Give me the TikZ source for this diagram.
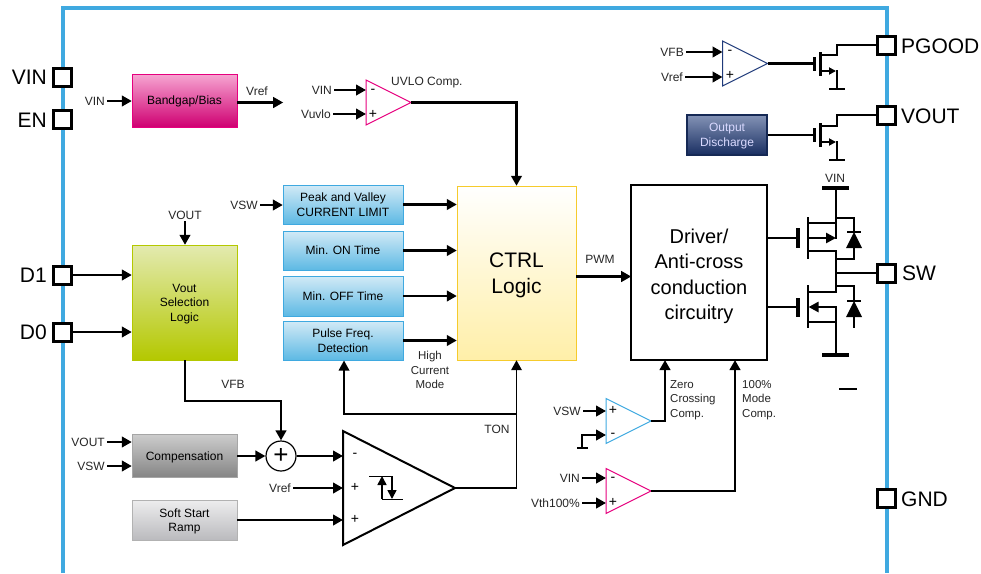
\documentclass[tikz,border=0pt]{standalone}
\usepackage{fontspec}
\setmainfont{Liberation Sans}
\usepackage{color}
\definecolor{frame-blue}{HTML}{3FA9E0}
\definecolor{comp-pink}{HTML}{E6007E}
\definecolor{comp-navy}{HTML}{1F3A7A}
\definecolor{ctrl-gold}{HTML}{F6CB2C}
\definecolor{sel-top}{HTML}{E3EAB0}
\definecolor{sel-bottom}{HTML}{B4C800}
\definecolor{box-top}{HTML}{D2EAF6}
\definecolor{box-bottom}{HTML}{5DB9E4}
\definecolor{ctrl-bottom}{HTML}{FFEFA8}
\usetikzlibrary{arrows.meta,shapes.geometric}

\begin{document}
\begin{tikzpicture}[x=1pt,y=-1pt,line join=miter]
    \tikzstyle{pin}=[draw,line width=3pt,fill=white,minimum size=18pt,inner sep=0pt]
    \tikzstyle{pinname}=[font=\fontsize{21}{21}\selectfont,inner sep=0pt]
    \tikzstyle{sig}=[font=\fontsize{12}{14}\selectfont,inner sep=2pt,text=black!85]
    \tikzstyle{sgn}=[font=\fontsize{14}{14}\selectfont,inner sep=0pt]
    \tikzstyle{block}=[draw,minimum width=105pt,font=\fontsize{12}{14.5}\selectfont,align=center,inner sep=1pt,text depth=-1pt]
    \tikzstyle{bluebox}=[block,draw=frame-blue,top color=box-top,bottom color=box-bottom,minimum width=120pt]
    \tikzstyle{wire}=[line width=2.6pt]
    \tikzstyle{arr}=[wire,-{Triangle[length=10pt,width=10.5pt]}]
    \tikzstyle{comp}=[draw,isosceles triangle,isosceles triangle stretches,minimum width=45pt,minimum height=45pt,inner sep=0pt,outer sep=0pt,anchor=apex,line width=1pt]
    \useasboundingbox (0,0) rectangle (981,573);

    % package outline, open at the bottom
    \draw[frame-blue,line width=3.4pt] (63,573) -- (63,8) -- (887,8) -- (887,573);

    % pins
    \node[pin] (vin) at (62,77) {};
    \node[pin] (en) at (62,119) {};
    \node[pin] (d1) at (62,275) {};
    \node[pin] (d0) at (62,332) {};
    \node[pin] (pgood) at (886,45) {};
    \node[pin] (vout) at (886,115) {};
    \node[pin] (sw) at (886,273) {};
    \node[pin] (gnd) at (886,498) {};
    \node[pinname,anchor=east] (vinName) at (47,77) {VIN};
    \node[pinname,anchor=east] (enName) at (47,120) {EN};
    \node[pinname,anchor=east] (d1Name) at (47,275) {D1};
    \node[pinname,anchor=east] (d0Name) at (47,332) {D0};
    \node[pinname,anchor=west] (pgoodName) at (901,46) {PGOOD};
    \node[pinname,anchor=west] (voutName) at (901,116) {VOUT};
    \node[pinname,anchor=west] (swName) at (902,273) {SW};
    \node[pinname,anchor=west] (gndName) at (901,499) {GND};

    % blocks
    \node[block,draw=comp-pink,top color=comp-pink!35,bottom color=comp-pink!90!black,minimum height=53pt] (bandgap) at (184.5,100.5) {Bandgap/Bias};
    \node[block,draw=sel-bottom,top color=sel-top,bottom color=sel-bottom,minimum height=115pt] (sel) at (184.5,302.5) {Vout\\Selection\\Logic};
    \node[block,draw=gray!70,top color=black!20,bottom color=black!48,minimum height=43pt] (comps) at (184.5,456) {Compensation};
    \node[block,draw=gray!60,top color=blue!5!black!7,bottom color=blue!5!black!27,minimum height=40pt] (soft) at (184.5,520) {Soft Start\\Ramp};
    \node[bluebox,minimum height=39pt] (peak) at (343,204.5) {Peak and Valley\\CURRENT LIMIT};
    \node[bluebox,minimum height=39pt] (minon) at (343,250.5) {Min. ON Time};
    \node[bluebox,minimum height=40pt] (minoff) at (343,296) {Min. OFF Time};
    \node[bluebox,minimum height=39pt] (pulse) at (343,340.5) {Pulse Freq.\\Detection};
    \node[block,draw=ctrl-gold,top color=white,bottom color=ctrl-bottom,minimum width=119pt,minimum height=174pt] (ctrl) at (516.5,273) {};
    \node[font=\fontsize{21}{26}\selectfont,align=center,inner sep=0pt] (ctrlName) at (516.5,275.5) {CTRL\\Logic};
    \node[block,draw=black,line width=2.4pt,fill=white,minimum width=136pt,minimum height=175pt] (driver) at (699,272.5) {};
    \node[font=\fontsize{20}{25.5}\selectfont,align=center,inner sep=0pt] (driverName) at (699,276.5) {Driver/\\Anti-cross\\conduction\\circuitry};
    \node[block,draw=comp-navy!70!black,line width=1.5pt,top color=comp-navy!55!white,bottom color=comp-navy!80!black,minimum width=80pt,minimum height=40pt,text=white!85!blue] (disch) at (727,135) {Output\\Discharge};
    \node[draw,circle,line width=1.2pt,minimum size=30pt,inner sep=0pt,font=\fontsize{26}{26}\selectfont] (sum) at (281,456) {+};

    % comparators
    \node[comp,draw=comp-pink] (uvlo) at (411,102.5) {};
    \node[comp,draw=comp-navy] (pg) at (767.5,63.5) {};
    \node[comp,draw=frame-blue] (zero) at (651,421) {};
    \node[comp,draw=comp-pink] (full) at (651,491) {};
    \node[comp,draw=black,line width=2pt,minimum width=114pt,minimum height=112pt] (hyst) at (455,488) {};

    % input labels
    \node[sig,anchor=east] (vinB) at (107,101) {VIN};
    \node[sig] (vrefB) at (257,91) {Vref};
    \node[sig,anchor=east] (vinU) at (334,90) {VIN};
    \node[sig,anchor=east] (vuvlo) at (333,114) {Vuvlo};
    \node[sig,anchor=west] (uvloName) at (389,83) {UVLO Comp.};
    \node[sig,anchor=east] (vfbP) at (686,52) {VFB};
    \node[sig,anchor=east] (vrefP) at (685,77) {Vref};
    \node[sig,anchor=east] (vswP) at (260,205) {VSW};
    \node[sig] (voutS) at (185,215) {VOUT};
    \node[sig] (vfb) at (233,384) {VFB};
    \node[sig,anchor=east] (voutC) at (107,442) {VOUT};
    \node[sig,anchor=east] (vswC) at (107,466) {VSW};
    \node[sig,anchor=east] (vrefH) at (293,488) {Vref};
    \node[sig] (ton) at (497,429) {TON};
    \node[sig] (pwm) at (600,259) {PWM};
    \node[sig,align=center,font=\fontsize{11.5}{14.5}\selectfont] (high) at (430,370) {High\\Current\\Mode};
    \node[sig,anchor=east] (vswZ) at (583,411) {VSW};
    \node[sig,anchor=east] (vinF) at (582,478) {VIN};
    \node[sig,anchor=east] (vth) at (582,503) {Vth100\%};
    \node[sig,align=left,anchor=west,font=\fontsize{11.5}{14.5}\selectfont] (zeroName) at (668,400) {Zero\\Crossing\\Comp.};
    \node[sig,align=left,anchor=west,font=\fontsize{11.5}{14.5}\selectfont] (fullName) at (740,400) {100\%\\Mode\\Comp.};
    \node[sig] (vinQ) at (835,178) {VIN};

    % comparator input signs
    \node[sgn] (uvloM) at (373,91) {-};
    \node[sgn] (uvloP) at (373,114) {+};
    \node[sgn] (pgM) at (730,52) {-};
    \node[sgn] (pgP) at (730,75) {+};
    \node[sgn] (zeroP) at (613,410) {+};
    \node[sgn] (zeroM) at (613,435) {-};
    \node[sgn] (fullM) at (613,479) {-};
    \node[sgn] (fullP) at (613,502) {+};
    \node[sgn] (hystM) at (355,455) {-};
    \node[sgn] (hystA) at (355,487) {+};
    \node[sgn] (hystB) at (355,519) {+};

    % left side
    \draw[arr] (d1) -- (d1 -| sel.west);
    \draw[arr] (d0) -- (d0 -| sel.west);
    \draw[arr] (vinB) -- (vinB -| bandgap.west);
    \draw[arr] (bandgap.east |- uvlo.apex) -- ++(46,0);
    \draw[arr] (voutS) -- (voutS |- sel.north);
    \draw[arr] (voutC) -- (voutC -| comps.west);
    \draw[arr] (vswC) -- (vswC -| comps.west);
    \draw[wire] (185,360) -- (185,401) -- (281,401);
    \draw[arr] (281,400) -- (sum.north);
    \draw[arr] (comps.east) -- (sum.west);
    \draw[arr] (sum.east) -- (sum.east -| hyst.lower side);
    \draw[arr] (vrefH) -- (vrefH -| hyst.lower side);
    \draw[arr] (soft.east) -- (soft.east -| hyst.lower side);

    % middle
    \draw[arr] (vinU) -- (vinU -| uvlo.lower side);
    \draw[arr] (vuvlo) -- (vuvlo -| uvlo.lower side);
    \draw[arr] (uvlo.apex) -| (ctrl.north);
    \draw[arr] (vswP) -- (vswP -| peak.west);
    \draw[arr] (peak.east) -- (peak.east -| ctrl.west);
    \draw[arr] (minon.east) -- (minon.east -| ctrl.west);
    \draw[arr] (minoff.east) -- (minoff.east -| ctrl.west);
    \draw[arr] (pulse.east) -- (pulse.east -| ctrl.west);
    \draw[line width=1.8pt,-{Triangle[length=10pt,width=10.5pt]}] (hyst.apex) -| (ctrl.south);
    \draw[line width=1.8pt,-{Triangle[length=10pt,width=10.5pt]}] (517,414) -- (344,414) -- (344,360.5);
    \draw[arr] (ctrl.east |- driver.center) ++(0,4) -- ++(55,0);

    % hysteresis mark
    \draw[line width=1pt] (369,476) -- (392,476);
    \draw[line width=1pt] (382,499) -- (403,499);
    \draw[line width=1.6pt,-{Triangle[length=9pt,width=9pt]}] (382,499) -- (382,476);
    \draw[line width=1.6pt,-{Triangle[length=9pt,width=9pt]}] (392,476) -- (392,499);

    % lower comparators
    \draw[arr] (vswZ) -- (vswZ -| zero.lower side);
    \draw[arr] (582,435) -- (zero.lower side |- 582,435);
    \draw[wire] (582,434) -- (582,448);
    \draw[line width=1.2pt] (577,448) -- (588,448);
    \draw[arr] (vinF) -- (vinF -| full.lower side);
    \draw[arr] (vth) -- (vth -| full.lower side);
    \draw[arr] (zero.apex) -| (665,360);
    \draw[arr] (full.apex) -| (735,360);

    % upper right switches
    \draw[arr] (vfbP) -- (vfbP -| pg.lower side);
    \draw[arr] (vrefP) -- (vrefP -| pg.lower side);
    \draw[wire] (pg.apex) -- (814,63.5);
    \draw[wire] (814.5,57) -- (814.5,71);
    \draw[wire] (820.5,52) -- (820.5,76);
    \draw[wire] (820,55) -- (837,55) -- (837,45) -- (pgood.west);
    \draw[wire,-{Triangle[length=7pt,width=7pt]}] (820,71) -- (836,71);
    \draw[wire] (837,70) -- (837,89);
    \draw[wire] (829,89) -- (845,89);
    \draw[wire] (disch.east) -- (814,135);
    \draw[wire] (814.5,128) -- (814.5,142);
    \draw[wire] (820.5,123) -- (820.5,147);
    \draw[wire] (820,126) -- (837,126) -- (837,115) -- (vout.west);
    \draw[wire,-{Triangle[length=7pt,width=7pt]}] (820,142) -- (836,142);
    \draw[wire] (837,141) -- (837,160);
    \draw[wire] (829,160) -- (845,160);

    % output stage
    \draw[line width=4pt] (822,188) -- (849,188);
    \draw[wire] (836,188) -- (836,239);
    \draw[wire] (driver.east |- 0,238) -- (798,238);
    \draw[line width=4pt] (798,228) -- (798,248);
    \draw[wire] (808,217) -- (808,259);
    \draw[wire] (808,223) -- (836,223);
    \draw[wire,-{Triangle[length=10pt,width=10pt]}] (808,238) -- (836,238);
    \draw[wire] (808,251) -- (836,251) -- (836,292) -- (808,292);
    \draw[wire] (836,218) -- (854,218) -- (854,232);
    \draw[wire] (836,259) -- (854,259) -- (854,246);
    \draw[wire] (847,232) -- (861,232);
    \fill (854,232) -- (862,248) -- (846,248) -- cycle;
    \draw[wire] (836,273) -- (sw.west);
    \draw[wire] (driver.east |- 0,307) -- (798,307);
    \draw[line width=4pt] (798,298) -- (798,317);
    \draw[wire] (808,285) -- (808,328);
    \draw[wire,-{Triangle[length=10pt,width=10pt]}] (836,307) -- (808.5,307);
    \draw[wire] (836,306) -- (836,355);
    \draw[wire] (808,322) -- (836,322);
    \draw[line width=4pt] (822,355) -- (849,355);
    \draw[wire] (836,286) -- (854,286) -- (854,301);
    \draw[wire] (847,301) -- (861,301);
    \fill (854,301) -- (862,317) -- (846,317) -- cycle;
    \draw[wire] (854,316) -- (854,328);
    \draw[wire] (839,389) -- (857,389);
\end{tikzpicture}
\end{document}
